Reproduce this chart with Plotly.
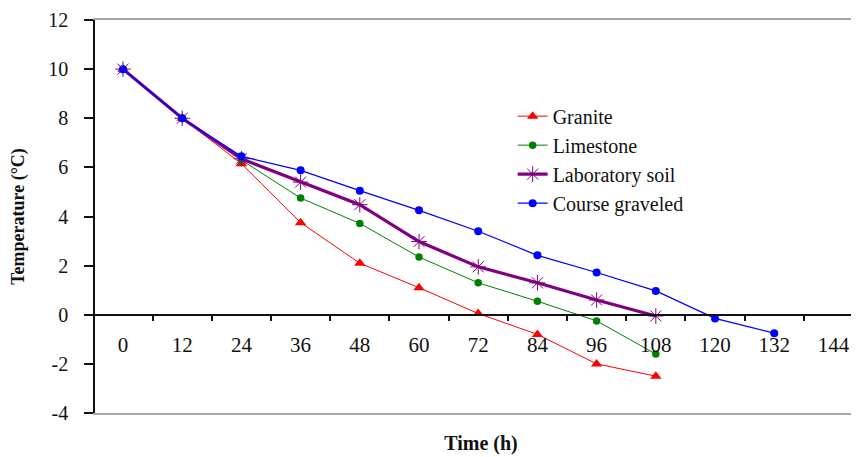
import plotly.graph_objects as go

time_labels = ["0", "12", "24", "36", "48", "60", "72", "84", "96", "108", "120", "132", "144"]

granite = [10, 8, 6.15, 3.75, 2.1, 1.1, 0.05, -0.8, -2.0, -2.5]
limestone = [10, 8, 6.3, 4.75, 3.72, 2.35, 1.3, 0.55, -0.25, -1.6]
lab_soil = [10, 8, 6.35, 5.4, 4.48, 2.98, 1.95, 1.3, 0.6, -0.05]
course_graveled = [10, 8, 6.45, 5.88, 5.05, 4.25, 3.4, 2.42, 1.72, 0.97, -0.15, -0.75]

y_ticks = [-4, -2, 0, 2, 4, 6, 8, 10, 12]

FONT = "Liberation Serif"
TXT = "#111111"

fig = go.Figure()

# empty helper trace so the framing axis (x) is rendered
fig.add_trace(go.Scatter(x=[None], y=[None], xaxis="x", yaxis="y", showlegend=False,
                         hoverinfo="skip", mode="markers"))

series = [
    ("Granite", granite, dict(color="#ff0000", width=1), dict(symbol="triangle-up", size=10, color="#ff0000")),
    ("Limestone", limestone, dict(color="#008000", width=1), dict(symbol="circle", size=7.5, color="#008000")),
    ("Laboratory soil", lab_soil, dict(color="#800080", width=3.2),
     dict(symbol="asterisk-open", size=13, color="#800080", line=dict(color="#800080", width=1))),
    ("Course graveled", course_graveled, dict(color="#0000ff", width=1.3), dict(symbol="circle", size=8, color="#0000ff")),
]

for name, vals, line, marker in series:
    fig.add_trace(go.Scatter(
        x=time_labels[:len(vals)], y=vals, name=name, mode="lines+markers",
        line=line, marker=marker, xaxis="x2", yaxis="y",
    ))

fig.update_layout(
    width=859, height=457,
    margin=dict(l=87, r=0, t=12, b=52),
    paper_bgcolor="white", plot_bgcolor="white",
    font=dict(family=FONT, color=TXT, size=20),
    showlegend=True,
    legend=dict(x=0.541, y=0.805, xanchor="left", yanchor="top",
                font=dict(family=FONT, size=20, color=TXT),
                bgcolor="rgba(0,0,0,0)", borderwidth=0,
                tracegroupgap=0),
    xaxis=dict(
        showline=True, linecolor="#a6a6a6", linewidth=2, mirror=True,
        showgrid=False, zeroline=False, showticklabels=False, ticks="",
        range=[0, 1], automargin=False,
        title=dict(text="<b>Time (h)</b>", font=dict(family=FONT, size=20, color=TXT), standoff=22),
    ),
    xaxis2=dict(
        type="category", categoryorder="array", categoryarray=time_labels,
        overlaying="x", anchor="free", position=0.25,
        range=[-0.473, 12.567], automargin=False,
        showline=True, linecolor=TXT, linewidth=1.5,
        ticks="outside", tickson="boundaries", ticklen=5, tickwidth=1.5, tickcolor=TXT,
        showgrid=False, zeroline=False,
        tickfont=dict(family=FONT, size=21, color=TXT),
        ticklabelstandoff=11, ticklabeloverflow="allow",
    ),
    yaxis=dict(
        range=[-4, 12], tickvals=y_ticks, ticktext=[str(v) for v in y_ticks],
        automargin=False,
        showline=True, linecolor=TXT, linewidth=1.5,
        ticks="outside", ticklen=9, tickwidth=1.5, tickcolor=TXT,
        showgrid=False, zeroline=False,
        tickfont=dict(family=FONT, size=20, color=TXT),
        ticklabelstandoff=12, ticklabeloverflow="allow",
        title=dict(text="<b>Temperature (°C)</b>", font=dict(family=FONT, size=18, color=TXT), standoff=20),
    ),
)

fig.write_html("out.html")
